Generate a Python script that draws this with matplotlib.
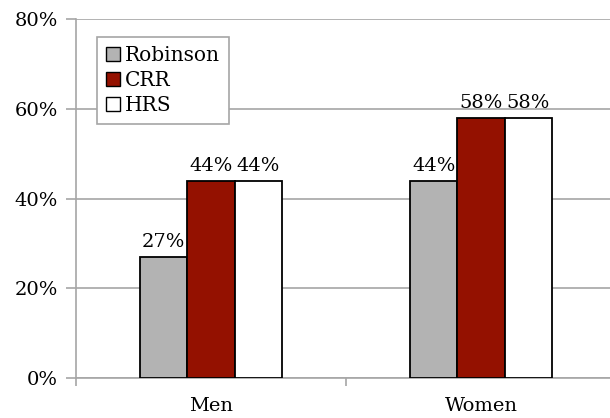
import numpy as np
import matplotlib
matplotlib.use("Agg")
import matplotlib.pyplot as plt
from matplotlib.patches import Patch

# Daten
gruppen = ["Men", "Women"]
serien = ["Robinson", "CRR", "HRS"]
robinson = [27, 44]
crr = [44, 58]
hrs = [44, 58]
farben = ["#b3b3b3", "#941100", "#ffffff"]

plt.rcParams["font.family"] = ["DejaVu Serif"]
plt.rcParams["font.size"] = 14

fig = plt.figure(figsize=(6.10, 4.18), dpi=100)
ax = fig.add_axes([76 / 610, 40 / 418, 540 / 610, 359 / 418])

x = np.arange(len(gruppen))
breite = 0.175
for i, (werte, farbe) in enumerate(zip([robinson, crr, hrs], farben)):
    pos = x + (i - 1) * breite
    ax.bar(pos, werte, width=breite, color=farbe, edgecolor="black",
           linewidth=1.3, zorder=3)
    for p, w in zip(pos, werte):
        ax.text(p, w + 1.3, f"{w}%", ha="center", va="bottom", fontsize=14)

ax.set_xlim(-0.5, 1.5)
ax.set_ylim(0, 80)
ax.set_yticks([0, 20, 40, 60, 80])
ax.set_yticklabels([f"{v}%" for v in [0, 20, 40, 60, 80]])
ax.yaxis.grid(True, color="#a6a6a6", linewidth=1.2, zorder=0)
ax.set_axisbelow(True)

ax.set_xticks(x)
ax.set_xticklabels(gruppen)
ax.tick_params(axis="x", length=0, pad=14)
ax.set_xticks([-0.5, 0.5, 1.5], minor=True)
ax.tick_params(axis="x", which="minor", length=6, color="#a6a6a6", width=1.2)
ax.tick_params(axis="y", length=7, color="#a6a6a6", width=1.2, pad=6)

for s in ["top", "right"]:
    ax.spines[s].set_visible(False)
for s in ["left", "bottom"]:
    ax.spines[s].set_color("#a6a6a6")
    ax.spines[s].set_linewidth(1.2)

handles = [Patch(facecolor=f, edgecolor="black", linewidth=1.0) for f in farben]
leg = ax.legend(handles, serien, loc="upper left", bbox_to_anchor=(0.039, 0.95),
                borderaxespad=0, fancybox=False, framealpha=1, edgecolor="#a6a6a6",
                handlelength=0.7, handleheight=0.7, handletextpad=0.25,
                labelspacing=0.3, borderpad=0.45, fontsize=14.5)
leg.get_frame().set_linewidth(1.2)

fig.savefig("out.png", dpi=100)
